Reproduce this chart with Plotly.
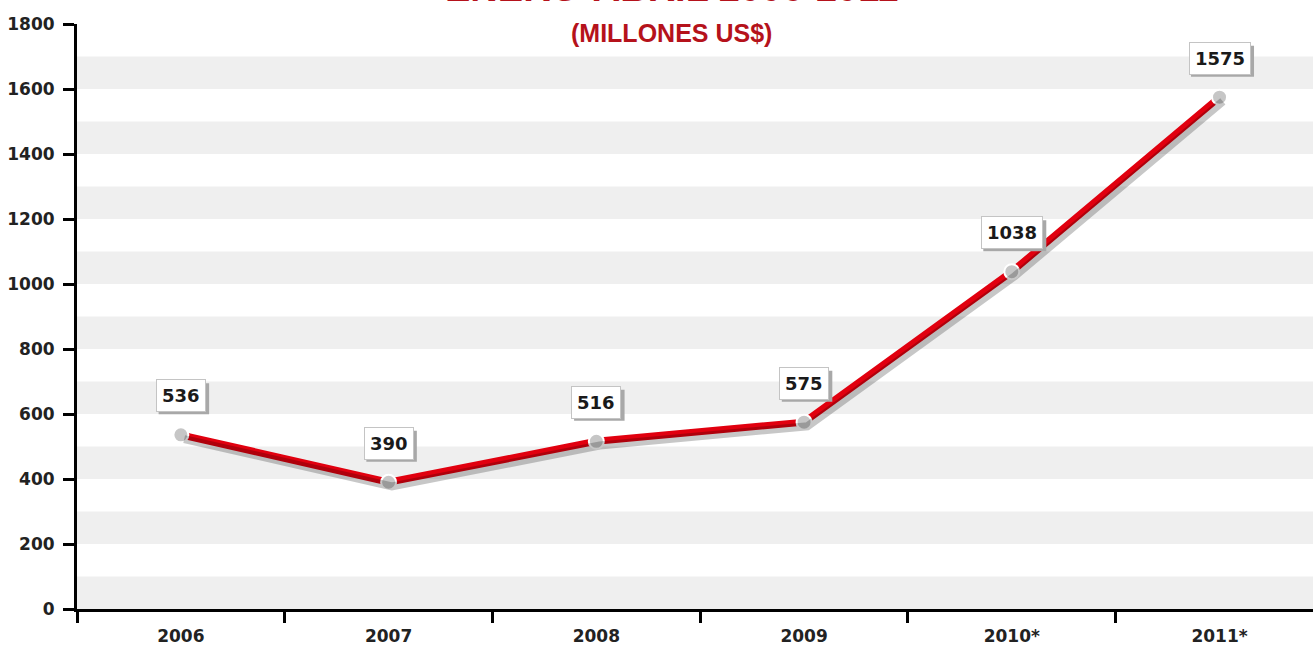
import plotly.graph_objects as go

years = ["2006", "2007", "2008", "2009", "2010*", "2011*"]
values = [536, 390, 516, 575, 1038, 1575]
y_ticks = [0, 200, 400, 600, 800, 1000, 1200, 1400, 1600, 1800]

red = "#e1000f"
title_red = "#b5121b"
x_range = [-0.5, 5.45]
y_range = [0, 1800]

fig = go.Figure()

# shadow under the line (same data on slightly shifted axes)
fig.add_trace(go.Scatter(
    x=years, y=values, mode="lines",
    line=dict(color="rgba(0,0,0,0.22)", width=8),
    xaxis="x2", yaxis="y2", hoverinfo="skip", showlegend=False))

fig.add_trace(go.Scatter(
    x=years, y=values, mode="lines+markers",
    line=dict(color=red, width=7),
    marker=dict(size=15, color="#c6c6c6", line=dict(color="white", width=2)),
    showlegend=False))

# striped background
for y0 in range(0, 1800, 200):
    fig.add_shape(type="rect", xref="paper", x0=0, x1=1, y0=y0, y1=y0 + 100,
                  fillcolor="#efefef", line_width=0, layer="below")

# value labels: drop shadow drawn as pixel-sized shape, then the boxed label
label_font = "DejaVu Sans, Liberation Sans, Arial"
lift = 39
for i, v in enumerate(values):
    w = len(str(v)) * 12.5 + 13
    h = 31
    fig.add_shape(type="rect", xref="x", yref="y", xsizemode="pixel", ysizemode="pixel",
                  xanchor=i, yanchor=v,
                  x0=-w / 2 + 3, x1=w / 2 + 3, y0=lift - 3 - h / 2, y1=lift - 3 + h / 2,
                  fillcolor="#a8a8a8", line_width=0)
    fig.add_annotation(x=i, y=v, text=f"<b>{v}</b>", showarrow=False,
                       yshift=lift, font=dict(size=18, color="#1a1a1a", family=label_font),
                       bgcolor="white", borderpad=5, borderwidth=1, bordercolor="#c4c4c4")

# title (top line runs off the page, as in the source)
fig.add_annotation(xref="paper", yref="paper", x=0.481, y=1.0214, yanchor="bottom",
                   text="<b>ENERO-ABRIL 2006-2011</b>", showarrow=False,
                   font=dict(size=38, color=title_red, family="Liberation Sans, Arial"))
fig.add_annotation(xref="paper", yref="paper", x=0.481, y=0.985, yanchor="middle",
                   text="<b>(MILLONES US$)</b>", showarrow=False,
                   font=dict(size=25, color=title_red, family="Liberation Sans, Arial"))

tick_font = dict(size=17, color="#222222", family="DejaVu Sans, Liberation Sans", weight="bold")

fig.update_layout(
    width=1313, height=648,
    margin=dict(l=77, r=0, t=24, b=39),
    paper_bgcolor="white", plot_bgcolor="white",
    font=dict(family="Liberation Sans, Arial"),
    xaxis=dict(type="category", range=x_range, tickson="boundaries",
               showline=True, linecolor="black", linewidth=3,
               ticks="outside", ticklen=11, tickwidth=3, tickcolor="black",
               showgrid=False, zeroline=False, tickfont=tick_font,
               ticklabelstandoff=10),
    yaxis=dict(range=y_range, tickvals=y_ticks,
               showline=True, linecolor="black", linewidth=3,
               ticks="outside", ticklen=11, tickwidth=3, tickcolor="black",
               showgrid=False, zeroline=False, tickfont=tick_font,
               ticklabelstandoff=5),
    xaxis2=dict(type="category", overlaying="x", range=[x_range[0] - 0.016, x_range[1] - 0.016],
                visible=False),
    yaxis2=dict(overlaying="y", range=[y_range[0] + 13, y_range[1] + 13], visible=False),
)

# page body has no margin so the figure sits flush with the window
fig.write_html("out.html", config={"displayModeBar": False},
               post_script="document.body.style.margin='0';")
